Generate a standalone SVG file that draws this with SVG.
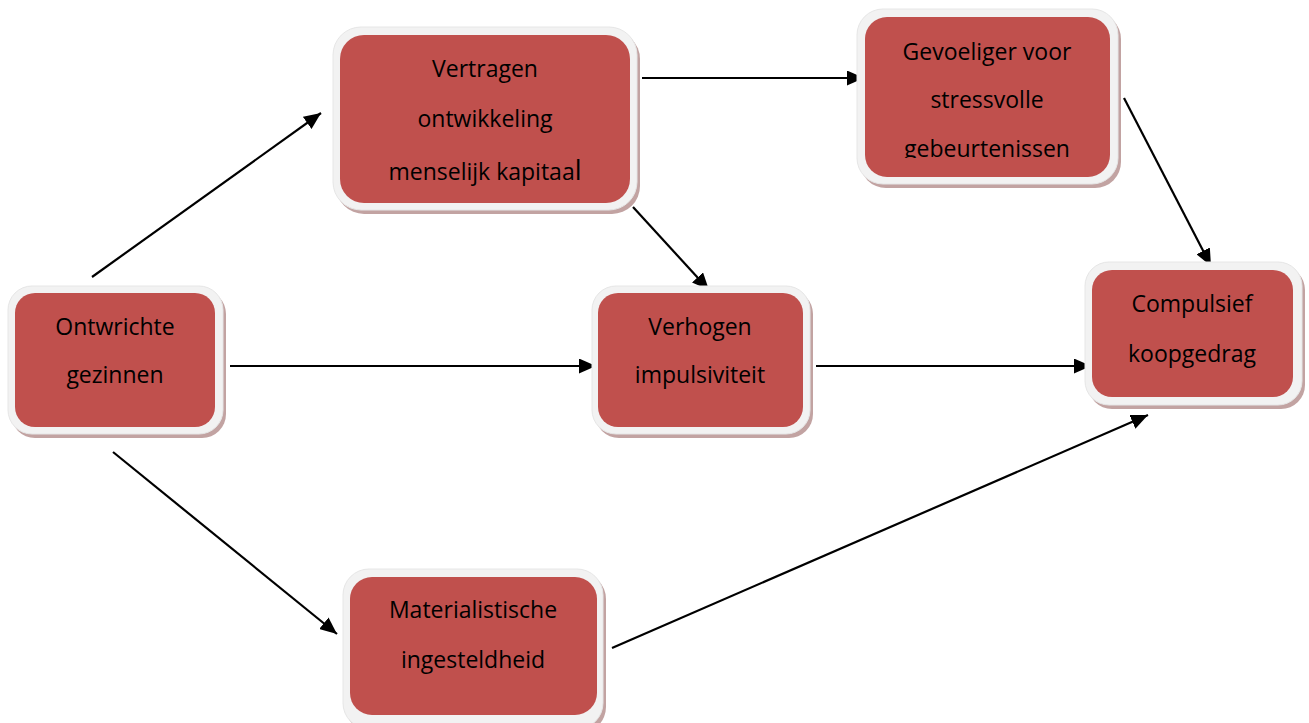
<svg xmlns="http://www.w3.org/2000/svg" width="1309" height="723" viewBox="0 0 1309 723">
<style>
.shadow{fill:#c2a3a2;}
.frame{fill:#f2f2f2;stroke:#e6e6e6;stroke-width:1;}
.box{fill:#c0504d;}
.lbl{font-family:"Open Sans","Liberation Sans",sans-serif;font-size:23px;fill:#000;text-anchor:middle;}
.conn line{stroke:#000;stroke-width:2.2;marker-end:url(#ah);}
</style>
<defs>
<marker id="ah" markerUnits="userSpaceOnUse" markerWidth="18" markerHeight="15" refX="17" refY="7.5" orient="auto">
<path d="M0,0 L17,7.5 L0,15 z" fill="#000"/>
</marker>
<clipPath id="clipG"><rect x="865" y="17" width="245" height="141"/></clipPath>
</defs>
<rect width="1309" height="723" fill="#fff"/>
<g class="conn" id="connectors">
<line x1="92" y1="277" x2="321" y2="113"/>
<line x1="230" y1="366" x2="596" y2="366"/>
<line x1="113" y1="452" x2="337" y2="634"/>
<line x1="642" y1="78" x2="864" y2="78"/>
<line x1="633" y1="207" x2="709" y2="290"/>
<line x1="1124" y1="98" x2="1211" y2="266"/>
<line x1="816" y1="366" x2="1091" y2="366"/>
<line x1="612" y1="648" x2="1148" y2="415"/>
</g>
<g id="n-ontwrichte">
<rect class="shadow" x="11" y="290" width="215" height="148" rx="24"/>
<rect class="frame" x="8" y="286" width="215" height="148" rx="24"/>
<rect class="box" x="15" y="293" width="200" height="134" rx="20"/>
<text class="lbl" x="115" y="335">Ontwrichte</text>
<text class="lbl" x="115" y="383">gezinnen</text>
</g>
<g id="n-vertragen">
<rect class="shadow" x="336" y="31" width="304" height="183" rx="28"/>
<rect class="frame" x="333" y="27" width="304" height="183" rx="28"/>
<rect class="box" x="340" y="35" width="290" height="168" rx="24"/>
<text class="lbl" x="485" y="77">Vertragen</text>
<text class="lbl" x="485" y="127">ontwikkeling</text>
<text class="lbl" x="485" y="180">menselijk kapitaa<tspan font-size="27px">l</tspan></text>
</g>
<g id="n-gevoeliger">
<rect class="shadow" x="860" y="13" width="261" height="175" rx="26"/>
<rect class="frame" x="857" y="9" width="261" height="175" rx="26"/>
<rect class="box" x="865" y="17" width="245" height="160" rx="22"/>
<g clip-path="url(#clipG)">
<text class="lbl" x="987" y="60">Gevoeliger voor</text>
<text class="lbl" x="987" y="108">stressvolle</text>
<text class="lbl" x="987" y="157">gebeurtenissen</text>
</g>
</g>
<g id="n-verhogen">
<rect class="shadow" x="595" y="290" width="218" height="148" rx="24"/>
<rect class="frame" x="592" y="286" width="218" height="148" rx="24"/>
<rect class="box" x="598" y="293" width="205" height="134" rx="20"/>
<text class="lbl" x="700" y="335">Verhogen</text>
<text class="lbl" x="700" y="383">impulsiviteit</text>
</g>
<g id="n-compulsief">
<rect class="shadow" x="1088" y="266" width="217" height="143" rx="24"/>
<rect class="frame" x="1085" y="262" width="217" height="143" rx="24"/>
<rect class="box" x="1092" y="270" width="201" height="127" rx="20"/>
<text class="lbl" x="1192" y="312">Compulsief</text>
<text class="lbl" x="1192" y="362">koopgedrag</text>
</g>
<g id="n-materialistische">
<rect class="shadow" x="346" y="573" width="260" height="160" rx="26"/>
<rect class="frame" x="343" y="569" width="260" height="160" rx="26"/>
<rect class="box" x="350" y="577" width="247" height="138" rx="22"/>
<text class="lbl" x="473" y="618">Materialistische</text>
<text class="lbl" x="473" y="668">ingesteldheid</text>
</g>
</svg>
